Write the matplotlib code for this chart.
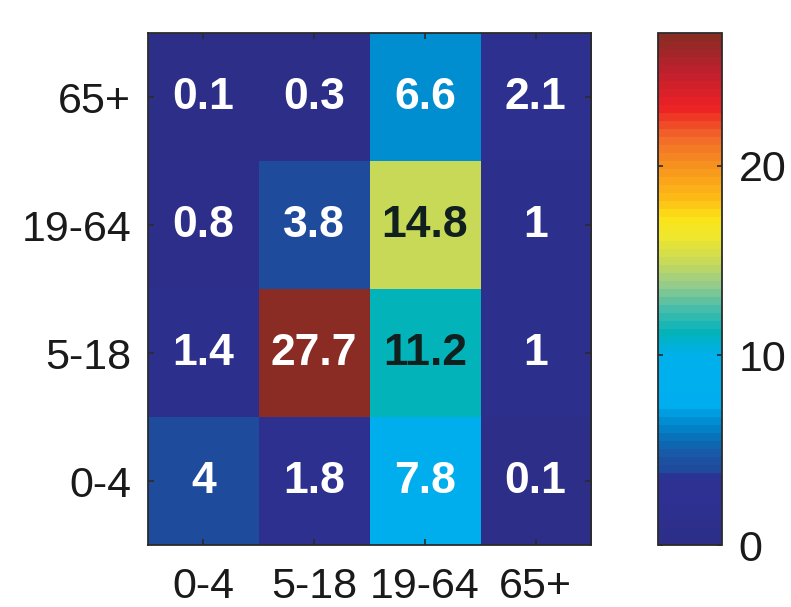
import numpy as np
import matplotlib
matplotlib.use("Agg")
import matplotlib.pyplot as plt
from matplotlib.colors import LinearSegmentedColormap

# age groups, bottom row first (rows = one group, cols = other group)
groups = ["0-4", "5-18", "19-64", "65+"]
contacts = np.array([
    [4.0, 1.8, 7.8, 0.1],     # 0-4
    [1.4, 27.7, 11.2, 1.0],   # 5-18
    [0.8, 3.8, 14.8, 1.0],    # 19-64
    [0.1, 0.3, 6.6, 2.1],     # 65+
])
cbar_ticks = [0, 10, 20]

# jet as it looks after a print conversion (muted blues, flat navy end)
JET_PRINT = [
    (0.00, "#2c2e87"), (0.08, "#2e3192"), (0.125, "#2e3192"),
    (0.14, "#1f4a9c"), (0.17, "#1a56a4"), (0.20, "#0a6db6"),
    (0.235, "#008bcf"), (0.27, "#00aeef"), (0.37, "#00b0ec"),
    (0.41, "#00b3bb"), (0.46, "#45bcaa"), (0.51, "#98cc8a"),
    (0.55, "#c4d85c"), (0.60, "#eee630"), (0.64, "#fbe318"),
    (0.68, "#fdbb16"), (0.74, "#f7941d"), (0.80, "#f26a2a"),
    (0.86, "#ed2024"), (0.93, "#c0202e"), (1.00, "#8a2b24"),
]
cmap = LinearSegmentedColormap.from_list("jetprint", JET_PRINT, N=64)

INK = "#1a1a1a"
SPINE = "#2b2b2b"

plt.rcParams.update({
    "font.family": ["Liberation Sans", "DejaVu Sans"],
    "font.size": 31,
})

fig = plt.figure(figsize=(7.91, 6.07), dpi=100)
ax = fig.add_axes([0.1871, 0.1021, 0.5601, 0.8435])
cax = fig.add_axes([0.8319, 0.1021, 0.0809, 0.8435])

n = len(groups)
im = ax.imshow(contacts, cmap=cmap, vmin=0, vmax=27, origin="lower",
               aspect="auto", extent=(-0.5, n - 0.5, -0.5, n - 0.5))

for i in range(n):
    for j in range(n):
        v = contacts[i, j]
        color = "#10201f" if 9 < v < 20 else "white"
        ax.text(j, i, f"{v:g}", ha="center", va="center", color=color,
                fontsize=32, fontweight="bold")

ax.set_xticks(range(n))
ax.set_xticklabels(groups)
ax.set_yticks(range(n))
ax.set_yticklabels(groups)
ax.tick_params(direction="in", length=4.5, width=1.2, color=SPINE,
               top=True, right=True, labelcolor=INK)
ax.tick_params(axis="x", pad=16)
ax.tick_params(axis="y", pad=12)
for s in ax.spines.values():
    s.set_color(SPINE)
    s.set_linewidth(1.3)

cb = fig.colorbar(im, cax=cax, ticks=cbar_ticks)
cb.outline.set_edgecolor(SPINE)
cb.outline.set_linewidth(1.3)
cax.tick_params(direction="in", length=3.5, width=1.2, color=SPINE,
                left=True, right=True, pad=12, labelcolor=INK)

fig.savefig("out.png", dpi=100, facecolor="white")
